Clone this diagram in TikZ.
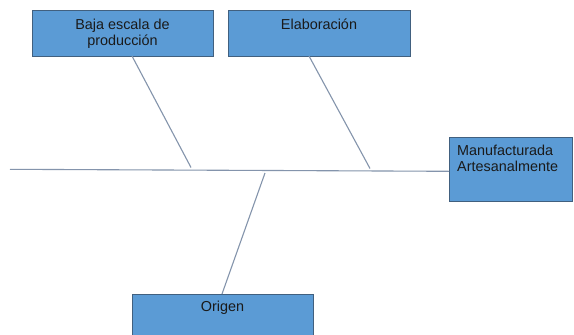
\documentclass[tikz,border=0pt]{standalone}
\usepackage{fontspec}
\setmainfont{Liberation Sans}
\definecolor{boxfill}{HTML}{5B9BD5}
\definecolor{boxedge}{HTML}{41607F}
\definecolor{bone}{HTML}{8494AC}
\definecolor{ink}{HTML}{1A1A1A}
\begin{document}
\begin{tikzpicture}[x=1pt,y=-1pt,
  cause/.style={draw=boxedge,line width=0.9pt,fill=boxfill},
  label/.style={text=ink,font=\fontsize{14.4}{16}\selectfont,inner sep=0pt},
  boneline/.style={draw=bone,line width=1.1pt}]
\useasboundingbox[fill=white] (0,0) rectangle (574,335);
% cause boxes
\draw[cause] (32,10) rectangle (213,56);
\draw[cause] (228,10) rectangle (410,56);
\draw[cause] (449,137) rectangle (572,201);
\draw[cause] (132,294) rectangle (313,340);
% box labels (multi-line labels are placed by the baseline of their last line)
\node[label,align=center,anchor=base] (baja) at (122.5,45.5) {Baja escala de\\producción};
\node[label,anchor=base] (elab) at (319,29.5) {Elaboración};
\node[label,align=left,anchor=base west] (manu) at (457,171) {Manufacturada\\Artesanalmente};
\node[label,anchor=base] (orig) at (222.5,311.5) {Origen};
% spine and ribs
\coordinate (tail) at (10,169.3);
\coordinate (head) at (449,171.3);
\coordinate (b1) at (132,56);
\coordinate (j1) at (191,167.5);
\coordinate (b2) at (309,56);
\coordinate (j2) at (370,168.5);
\coordinate (b3) at (222,294);
\coordinate (j3) at (265,173);
\draw[boneline] (tail) -- (head);
\draw[boneline] (b1) -- (j1);
\draw[boneline] (b2) -- (j2);
\draw[boneline] (j3) -- (b3);
\end{tikzpicture}
\end{document}
